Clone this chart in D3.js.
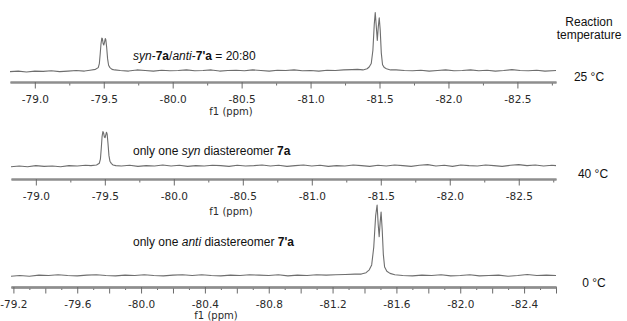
<!DOCTYPE html>
<html>
<head>
<meta charset="utf-8">
<script src="https://cdn.jsdelivr.net/npm/d3@7"></script>
<style>
  body { margin: 0; background: #fff; }
  svg { display: block; }
  .tick text { font-family: "DejaVu Sans", Verdana, sans-serif; font-size: 10.5px; fill: #2a2a2a; }
  .lbl { font-family: "Liberation Sans", Arial, sans-serif; font-size: 12px; fill: #111; }
</style>
</head>
<body>
<div id="chart"></div>
<script>
// spectra: [ppm, relative intensity %]
const spec25 = [
  [-78.82,-2],[-78.88,-1],[-78.94,-2.5],[-79.00,-1],[-79.06,-1.5],[-79.12,-0.5],[-79.18,-2],[-79.24,-1],[-79.30,0],[-79.36,-1],[-79.40,0.5],
  [-79.44,2],[-79.46,5],[-79.468,12],[-79.474,28],[-79.480,46],[-79.486,56],[-79.490,55],[-79.496,46],[-79.500,44],[-79.505,48],[-79.511,55],[-79.515,53],[-79.521,40],[-79.528,20],[-79.535,9],[-79.545,5],[-79.56,2],[-79.58,1],
  [-79.62,0],[-79.68,-1],[-79.74,1],[-79.80,0],[-79.86,-1],[-79.92,0.5],[-79.98,-0.5],[-80.04,0],[-80.10,1],[-80.16,-0.5],[-80.22,0],[-80.28,1],[-80.34,-1],[-80.40,0],[-80.46,0.5],[-80.52,-0.5],[-80.58,1],[-80.64,0],[-80.70,-1],[-80.76,0.5],[-80.82,0],[-80.88,1],[-80.94,-0.5],[-81.00,0],[-81.06,-1],[-81.12,0.5],[-81.18,0],[-81.24,1],[-81.30,1.5],[-81.34,2],
  [-81.38,1],[-81.41,3],[-81.425,6],[-81.44,12],[-81.452,35],[-81.462,80],[-81.469,100],[-81.476,78],[-81.484,52],[-81.491,75],[-81.498,91],[-81.505,70],[-81.513,30],[-81.522,10],[-81.535,5],[-81.55,3],[-81.58,1],
  [-81.62,1],[-81.68,0],[-81.74,-0.5],[-81.80,0.5],[-81.86,-1],[-81.92,0],[-81.98,1],[-82.04,-0.5],[-82.10,0],[-82.16,1],[-82.22,-0.5],[-82.28,0.5],[-82.34,-1],[-82.40,0],[-82.46,1.5],[-82.52,0],[-82.58,-0.5],[-82.64,0.5],[-82.70,-1],[-82.78,0]
];
const spec40 = [
  [-78.82,-2],[-78.88,0],[-78.94,-2],[-79.00,1],[-79.06,-1],[-79.12,0],[-79.18,-2],[-79.24,1],[-79.30,0],[-79.36,2],[-79.40,1],
  [-79.44,3],[-79.46,8],[-79.468,20],[-79.474,50],[-79.480,85],[-79.486,100],[-79.491,96],[-79.497,84],[-79.502,82],[-79.507,90],[-79.512,98],[-79.517,92],[-79.523,65],[-79.530,30],[-79.537,14],[-79.548,7],[-79.56,3],[-79.58,1],
  [-79.62,0],[-79.68,2],[-79.74,-1],[-79.80,1],[-79.86,0],[-79.92,3],[-79.98,0],[-80.04,2],[-80.10,-1],[-80.16,1],[-80.22,0],[-80.28,2],[-80.34,1],[-80.40,-1],[-80.46,2],[-80.52,0],[-80.58,1],[-80.64,3],[-80.70,0],[-80.76,2],[-80.82,-1],[-80.88,1],[-80.94,3],[-81.00,0],[-81.06,2],[-81.12,-1],[-81.18,1],[-81.24,0],[-81.30,3],[-81.36,1],[-81.42,-1],[-81.48,2],[-81.54,0],[-81.60,3],[-81.66,1],[-81.72,-1],[-81.78,2],[-81.84,4],[-81.90,0],[-81.96,2],[-82.02,-1],[-82.08,3],[-82.14,1],[-82.20,0],[-82.26,3],[-82.32,1],[-82.38,-1],[-82.44,2],[-82.50,4],[-82.56,1],[-82.62,3],[-82.68,0],[-82.74,2],[-82.77,1]
];
const spec0 = [
  [-79.185,-1],[-79.24,0],[-79.30,-1],[-79.36,0.5],[-79.42,0],[-79.48,1],[-79.54,0],[-79.60,-0.5],[-79.66,0.5],[-79.72,1],[-79.78,0],[-79.84,-0.5],[-79.90,0.5],[-79.96,0],[-80.02,1],[-80.08,0],[-80.14,-0.5],[-80.20,0.5],[-80.26,1],[-80.32,0],[-80.38,1],[-80.44,0],[-80.50,-0.5],[-80.56,0.5],[-80.62,0],[-80.68,1],[-80.74,0.5],[-80.80,0],[-80.86,1],[-80.92,-0.5],[-80.98,0.5],[-81.04,0],[-81.10,1],[-81.16,0.5],[-81.22,1],[-81.28,1.5],[-81.34,2],
  [-81.38,2],[-81.41,4],[-81.43,8],[-81.445,15],[-81.458,40],[-81.470,85],[-81.479,100],[-81.486,72],[-81.492,55],[-81.498,75],[-81.504,90],[-81.511,65],[-81.518,30],[-81.526,12],[-81.54,6],[-81.56,3],[-81.59,1],
  [-81.64,0],[-81.70,-0.5],[-81.76,0.5],[-81.82,0],[-81.88,1],[-81.94,-0.5],[-82.00,0],[-82.06,1],[-82.12,-0.5],[-82.18,0],[-82.24,0.5],[-82.30,-1],[-82.36,0],[-82.42,1.5],[-82.48,0],[-82.54,0.5],[-82.60,0]
];

// axis ticks (ppm)
const labelTicksA = [-79.0, -79.5, -80.0, -80.5, -81.0, -81.5, -82.0, -82.5];
const minorTicksA = [-79.25, -79.75, -80.25, -80.75, -81.25, -81.75, -82.25, -82.75];
const labelTicksB = [-79.2, -79.6, -80.0, -80.4, -80.8, -81.2, -81.6, -82.0, -82.4];
const midTicksB = [-79.4, -79.8, -80.2, -80.6, -81.0, -81.4, -81.8, -82.2, -82.6];
const minorTicksB = [-79.3, -79.5, -79.7, -79.9, -80.1, -80.3, -80.5, -80.7, -80.9, -81.1, -81.3, -81.5, -81.7, -81.9, -82.1, -82.3, -82.5];

const width = 627, height = 321;

const svg = d3.select('#chart').append('svg')
  .attr('width', width)
  .attr('height', height);

// layout of the three stacked spectra
const panels = [
  { data: spec25, domain: [-78.82, -82.78], x0: 10, base: 70.5, top: 12.5, axisY: 82, ticks: 'A',
    fX: 231, fY: 115, temp: '25 °C', tX: 589, tY: 81 },
  { data: spec40, domain: [-78.82, -82.77], x0: 11, base: 166, top: 131.5, axisY: 179, ticks: 'A',
    fX: 231, fY: 215, temp: '40 °C', tX: 593, tY: 178 },
  { data: spec0, domain: [-79.185, -82.60], x0: 11, base: 275.5, top: 205, axisY: 287, ticks: 'B',
    fX: 216, fY: 318.5, temp: '0 °C', tX: 594, tY: 287 }
];

const fmt = d => d.toFixed(1);

panels.forEach(p => {
  const x = d3.scaleLinear().domain(p.domain).range([p.x0, 556]);
  const y = d3.scaleLinear().domain([0, 100]).range([p.base, p.top]);

  const g = svg.append('g');

  // axis: tick marks go down from a thick grey line
  if (p.ticks === 'A') {
    g.append('g').attr('transform', `translate(0,${p.axisY})`)
      .call(d3.axisBottom(x).tickValues(minorTicksA).tickSize(3.5).tickFormat('').tickSizeOuter(0));
    g.append('g').attr('transform', `translate(0,${p.axisY})`)
      .call(d3.axisBottom(x).tickValues(labelTicksA).tickSize(6.5).tickPadding(7.5).tickFormat(fmt).tickSizeOuter(0));
  } else {
    g.append('g').attr('transform', `translate(0,${p.axisY})`)
      .call(d3.axisBottom(x).tickValues(minorTicksB).tickSize(3).tickFormat('').tickSizeOuter(0));
    g.append('g').attr('transform', `translate(0,${p.axisY})`)
      .call(d3.axisBottom(x).tickValues(midTicksB).tickSize(6.5).tickFormat('').tickSizeOuter(0));
    g.append('g').attr('transform', `translate(0,${p.axisY})`)
      .call(d3.axisBottom(x).tickValues(labelTicksB).tickSize(6.5).tickPadding(7.5).tickFormat(fmt).tickSizeOuter(0));
  }
  g.selectAll('.domain').attr('stroke', '#8e8e8e').attr('stroke-width', 1.8);
  g.selectAll('.tick line').attr('stroke', '#6a6a6a');

  g.append('text')
    .attr('x', p.fX).attr('y', p.fY)
    .attr('text-anchor', 'middle')
    .style('font-family', '"DejaVu Sans", Verdana, sans-serif')
    .style('font-size', '10px')
    .style('fill', '#2a2a2a')
    .text('f1 (ppm)');

  // spectrum trace
  g.append('path')
    .datum(p.data)
    .attr('fill', 'none')
    .attr('stroke', '#6e6e6e')
    .attr('stroke-width', 1.1)
    .attr('stroke-linejoin', 'round')
    .attr('d', d3.line().x(d => x(d[0])).y(d => y(d[1])));

  svg.append('text').attr('class', 'lbl')
    .attr('x', p.tX).attr('y', p.tY)
    .attr('text-anchor', 'middle')
    .text(p.temp);
});

// header on the right
svg.append('text').attr('class', 'lbl').attr('x', 589).attr('y', 26).attr('text-anchor', 'middle').text('Reaction');
svg.append('text').attr('class', 'lbl').attr('x', 589).attr('y', 39).attr('text-anchor', 'middle').text('temperature');

// annotations (italic / bold runs)
function note(xPos, yPos, parts) {
  const t = svg.append('text').attr('class', 'lbl').attr('x', xPos).attr('y', yPos);
  parts.forEach(([s, style]) => {
    t.append('tspan')
      .style('font-style', style === 'i' ? 'italic' : 'normal')
      .style('font-weight', style === 'b' ? 'bold' : 'normal')
      .text(s);
  });
}
note(133, 60, [['syn', 'i'], ['-', ''], ['7a', 'b'], ['/', ''], ['anti', 'i'], ['-', ''], ["7'a", 'b'], [' = 20:80', '']]);
note(133, 155, [['only one ', ''], ['syn', 'i'], [' diastereomer ', ''], ['7a', 'b']]);
note(133, 246, [['only one ', ''], ['anti', 'i'], [' diastereomer ', ''], ["7'a", 'b']]);
</script>
</body>
</html>
